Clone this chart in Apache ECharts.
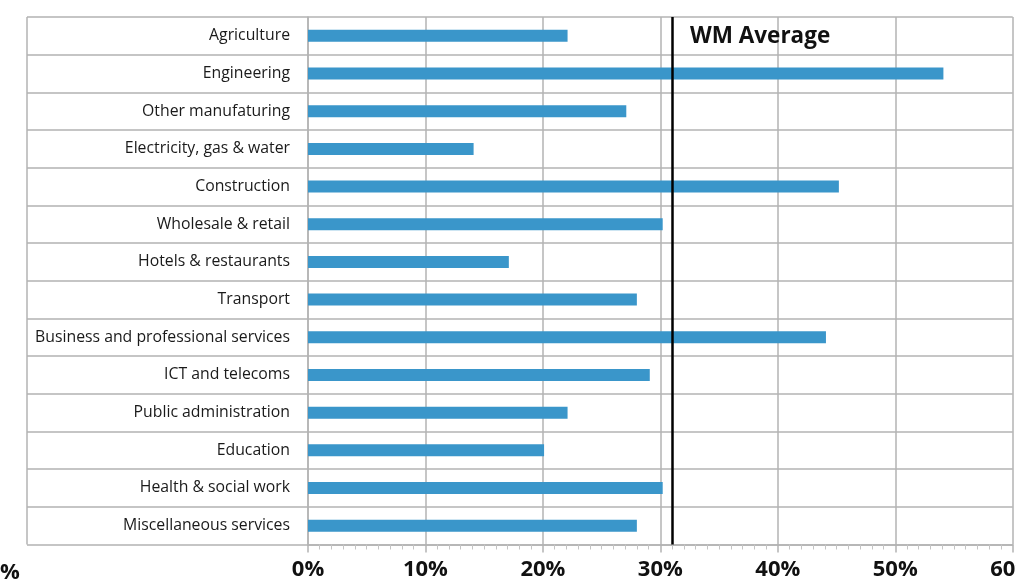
<!DOCTYPE html>
<html>
<head>
<meta charset="utf-8">
<script src="https://cdn.jsdelivr.net/npm/echarts@6/dist/echarts.min.js"></script>
<style>
html, body { margin: 0; padding: 0; background: #fff; }
#chart { width: 1016px; height: 585px; }
</style>
</head>
<body>
<div id="chart"></div>
<script>
var sectors = ['Agriculture', 'Engineering', 'Other manufaturing', 'Electricity, gas & water',
  'Construction', 'Wholesale & retail', 'Hotels & restaurants', 'Transport',
  'Business and professional services', 'ICT and telecoms', 'Public administration',
  'Education', 'Health & social work', 'Miscellaneous services'];
var shares = [22.1, 54.1, 27.1, 14.1, 45.2, 30.2, 17.1, 28.0, 44.1, 29.1, 22.1, 20.1, 30.2, 28.0];
var wmAverage = 31;
var xTicks = [0, 10, 20, 30, 40, 50, 60];

var gridColor = '#b3b3b3';
var font = '"Open Sans", "Noto Sans", sans-serif';

var myChart = echarts.init(document.getElementById('chart'));
myChart.setOption({
  animation: false,
  grid: { left: 308, right: 3.3, top: 17, bottom: 40.5, containLabel: false, outerBoundsMode: 'none' },
  xAxis: {
    type: 'value',
    min: xTicks[0],
    max: xTicks[xTicks.length - 1],
    interval: 10,
    axisLine: { show: true, lineStyle: { color: gridColor, width: 1.5 } },
    axisTick: { show: true, length: 8, lineStyle: { color: gridColor, width: 1.5 } },
    minorTick: { show: true, splitNumber: 10, length: 5, lineStyle: { color: '#c4c4c4', width: 1 } },
    splitLine: { show: true, lineStyle: { color: gridColor, width: 1.5 } },
    axisLabel: {
      formatter: '{value}%', color: '#111', fontSize: 22, fontWeight: 'bold',
      fontFamily: font, margin: 14, hideOverlap: false
    }
  },
  yAxis: {
    type: 'category',
    data: sectors,
    inverse: true,
    axisLine: { show: true, lineStyle: { color: gridColor, width: 1.5 } },
    axisTick: { show: true, interval: 0, length: 281, lineStyle: { color: gridColor, width: 1.5 } },
    splitLine: { show: true, interval: 0, lineStyle: { color: gridColor, width: 1.5 } },
    axisLabel: { interval: 0, color: '#1a1a1a', fontSize: 15.8, fontFamily: font, margin: 18, padding: [3, 0, 0, 0] }
  },
  series: [{
    type: 'bar',
    data: shares,
    barWidth: 12,
    itemStyle: { color: '#3a96ca' },
    markLine: {
      silent: true,
      symbol: 'none',
      lineStyle: { color: '#000', width: 2.5, type: 'solid' },
      label: {
        show: true, position: 'start', formatter: 'WM Average',
        color: '#111', fontSize: 22.5, fontWeight: 'bold', fontFamily: font,
        offset: [88, 36]
      },
      data: [{ xAxis: wmAverage }]
    }
  }],
  graphic: [
    { type: 'line', shape: { x1: 27, y1: 17, x2: 27, y2: 544.5 }, style: { stroke: gridColor, lineWidth: 1.5 } },
    { type: 'text', left: 0, top: 562, style: { text: '%', font: 'bold 22px ' + font, fill: '#111' } }
  ]
});
</script>
</body>
</html>
